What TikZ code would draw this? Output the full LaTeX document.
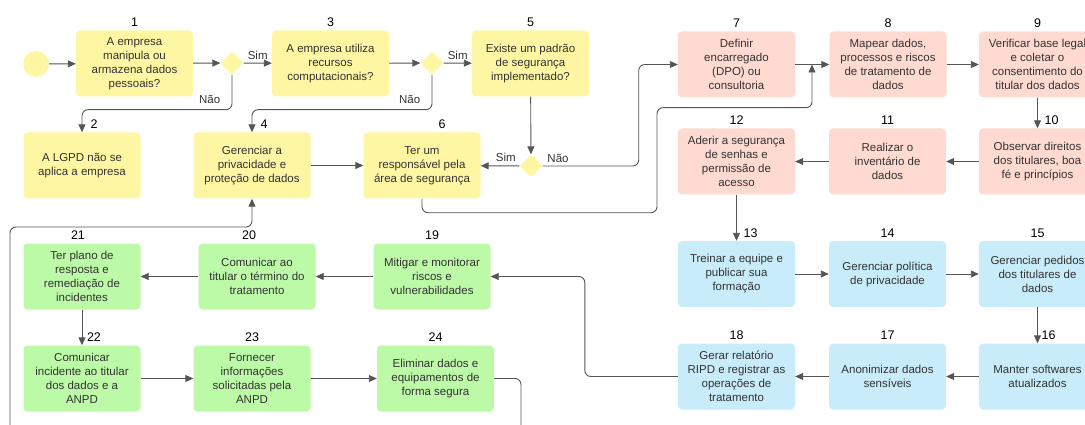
\documentclass[tikz,border=0pt]{standalone}
\usepackage{fontspec}
\setmainfont{Liberation Sans}
\usepackage{tikz}
\usetikzlibrary{shapes.geometric,arrows.meta}
\definecolor{yel}{HTML}{FFF6A3}
\definecolor{pnk}{HTML}{FFDAD0}
\definecolor{blu}{HTML}{C8ECFA}
\definecolor{grn}{HTML}{BCFAA8}
\definecolor{txt}{HTML}{333333}
\definecolor{lin}{HTML}{555555}

\begin{document}
\begin{tikzpicture}[x=1pt,y=-1pt,
  box/.style={rounded corners=4pt, minimum width=117pt, minimum height=66pt, inner sep=0pt, align=center, text=txt, font=\fontsize{11.5}{14}\selectfont},
  every label/.style={font=\fontsize{12.5}{14}\selectfont, text=black},
  dec/.style={diamond, fill=yel, minimum width=23pt, minimum height=23pt, inner sep=0pt, rounded corners=2pt},
  arr/.style={draw=lin, line width=0.9pt, -{Triangle[length=8pt,width=7pt]}, rounded corners=6pt},
  lnk/.style={draw=lin, line width=0.9pt, rounded corners=6pt},
  lbl/.style={font=\fontsize{11.5}{14}\selectfont, text=txt}]
\useasboundingbox (0,0) rectangle (1085,425);
\clip (0,0) rectangle (1085,425);

\node[circle, fill=yel, minimum size=26pt, inner sep=0pt] (st) at (36,64) {};
\node[box, fill=yel, label={above:1}] (b1) at (134.5,63.5) {A empresa\\manipula ou\\armazena dados\\pessoais?};
\node[dec] (d1) at (232,63) {};
\node[box, fill=yel, label={above:3}] (b3) at (330.5,63.5) {A empresa utiliza\\recursos\\computacionais?};
\node[dec] (d2) at (432,63) {};
\node[box, fill=yel, label={above:5}] (b5) at (530.5,63.5) {Existe um padrão\\de segurança\\implementado?};
\node[dec] (d3) at (531,166) {};
\node[box, fill=yel, label={[xshift=12pt]above:2}] (b2) at (82,165.5) {A LGPD não se\\aplica a empresa};
\node[box, fill=yel, label={[xshift=12pt]above:4}] (b4) at (252,165.5) {Gerenciar a\\privacidade e\\proteção de dados};
\node[box, fill=yel, label={[xshift=20pt]above:6}] (b6) at (422,165.5) {Ter um\\responsável pela\\área de segurança};

\node[box, fill=pnk, label={above:7}] (b7) at (736.5,64.5) {Definir\\encarregado\\(DPO) ou\\consultoria};
\node[box, fill=pnk, label={above:8}] (b8) at (888,64.5) {Mapear dados,\\processos e riscos\\de tratamento de\\dados};
\node[box, fill=pnk, label={above:9}] (b9) at (1037.5,64.5) {Verificar base legal\\e coletar o\\consentimento do\\titular dos dados};
\node[box, fill=pnk, label={[xshift=14pt]above:10}] (b10) at (1037.5,161.5) {Observar direitos\\dos titulares, boa\\fé e princípios};
\node[box, fill=pnk, label={above:11}] (b11) at (887.5,161.5) {Realizar o\\inventário de\\dados};
\node[box, fill=pnk, label={above:12}] (b12) at (736.5,161.5) {Aderir a segurança\\de senhas e\\permissão de\\acesso};

\node[box, fill=blu, label={[xshift=14pt]above:13}] (b13) at (736.5,274) {Treinar a equipe e\\publicar sua\\formação};
\node[box, fill=blu, label={above:14}] (b14) at (887.5,274) {Gerenciar política\\de privacidade};
\node[box, fill=blu, label={above:15}] (b15) at (1037.5,274) {Gerenciar pedidos\\dos titulares de\\dados};
\node[box, fill=blu, label={[xshift=11pt]above:16}] (b16) at (1037.5,376.5) {Manter softwares\\atualizados};
\node[box, fill=blu, label={above:17}] (b17) at (887.5,376.5) {Anonimizar dados\\sensíveis};
\node[box, fill=blu, label={above:18}] (b18) at (736.5,376.5) {Gerar relatório\\RIPD e registrar as\\operações de\\tratamento};

\node[box, fill=grn, label={above:19}] (b19) at (432,276.5) {Mitigar e monitorar\\riscos e\\vulnerabilidades};
\node[box, fill=grn, label={[xshift=-8pt]above:20}] (b20) at (257,276.5) {Comunicar ao\\titular o término do\\tratamento};
\node[box, fill=grn, label={[xshift=-4pt]above:21}] (b21) at (82,276.5) {Ter plano de\\resposta e\\remediação de\\incidentes};
\node[box, fill=grn, label={[xshift=12pt]above:22}] (b22) at (82,378.5) {Comunicar\\incidente ao titular\\dos dados e a\\ANPD};
\node[box, fill=grn, label={above:23}] (b23) at (252,378.5) {Fornecer\\informações\\solicitadas pela\\ANPD};
\node[box, fill=grn, label={above:24}] (b24) at (435.5,378.5) {Eliminar dados e\\equipamentos de\\forma segura};

\coordinate (c78) at (812,64.5);
\coordinate (cin) at (10,440);
\coordinate (cout) at (521,440);

\draw[arr] (st) -- (b1);
\draw[arr] (b1) -- (d1);
\draw[arr] (d1) -- node[above, lbl]{Sim} (b3);
\draw[arr] (d1.south) -- node[pos=0.7, left=8pt, lbl]{Não} ++(0,35) -| (b2.north);
\draw[arr] (b3) -- (d2);
\draw[arr] (d2) -- node[above, lbl]{Sim} (b5);
\draw[arr] (d2.south) -- node[pos=0.7, left=8pt, lbl]{Não} ++(0,35) -| (b4.north);
\draw[arr] (b5) -- (d3);
\draw[arr] (d3) -- node[pos=0.35, above, lbl]{Sim} (b6);
\draw[arr] (d3.east) node[anchor=south west, lbl, xshift=1pt]{Não} -- ++(96,0) |- (b7.west);
\draw[arr] (b4) -- (b6);
\draw[arr] (b6.south) -- ++(0,14) -- ++(235,0) -- ++(0,-105) -| (c78);
\draw[arr] (b7) -- (b8);
\draw[arr] (b8) -- (b9);
\draw[arr] (b9) -- (b10);
\draw[arr] (b10) -- (b11);
\draw[arr] (b11) -- (b12);
\draw[arr] (b12) -- (b13);
\draw[arr] (b13) -- (b14);
\draw[arr] (b14) -- (b15);
\draw[arr] (b15) -- (b16);
\draw[arr] (b16) -- (b17);
\draw[arr] (b17) -- (b18);
\draw[arr] (b18.west) -- ++(-93,0) |- (b19.east);
\draw[arr] (b19) -- (b20);
\draw[arr] (b20) -- (b21);
\draw[arr] (b21) -- (b22);
\draw[arr] (b22) -- (b23);
\draw[arr] (b23) -- (b24);
\draw[lnk] (b24.east) -| (cout);
\draw[arr] (cin) -- ++(0,-213) -| (b4.south);
\end{tikzpicture}
\end{document}
